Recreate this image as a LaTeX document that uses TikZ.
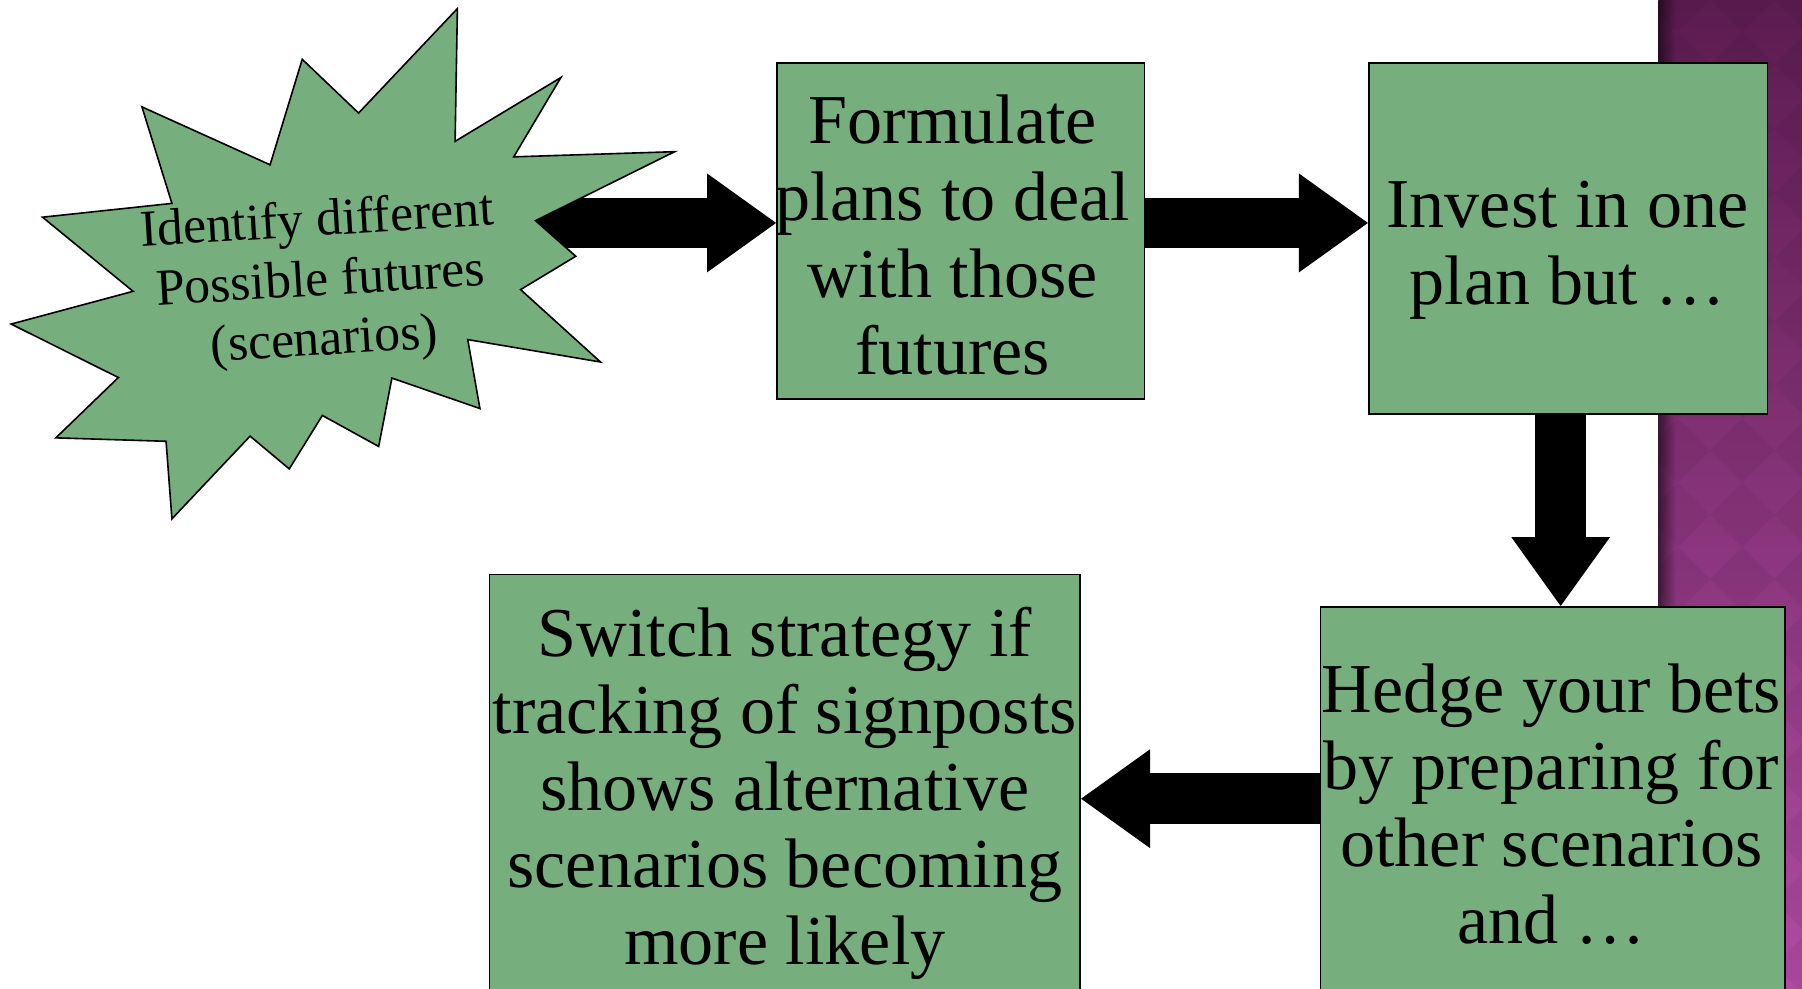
\documentclass[tikz,border=0pt]{standalone}
\usepackage{fontspec}
\setmainfont{Liberation Serif}
\usetikzlibrary{arrows.meta,calc,fadings}

\definecolor{boxgreen}{RGB}{118,174,126}
\definecolor{plumtop}{RGB}{92,28,80}
\definecolor{plummid}{RGB}{142,58,128}
\definecolor{plumbot}{RGB}{176,74,162}

\tikzset{
  stepbox/.style={draw=black, line width=0.7pt, fill=boxgreen, inner sep=0pt},
  boxtext/.style={align=center, font=\fontsize{30.5}{33.5}\selectfont, inner sep=0pt},
  bursttext/.style={align=center, font=\fontsize{22.5}{26}\selectfont, inner sep=0pt},
  blockarrow/.style={draw=black, line width=22pt,
    -{Triangle[length=30pt,width=43pt,line width=0pt]}},
  tile/.style={black, opacity=0.045},
}

\begin{document}
\begin{tikzpicture}[x=0.5pt,y=-0.5pt]
\useasboundingbox (0,0) rectangle (1568,860);
\clip (0,0) rectangle (1568,860);

% purple band on the right, with a faint diamond texture
\shade[top color=plumtop, middle color=plummid, bottom color=plumbot]
  (1443,0) rectangle (1568,860);
\begin{scope}
  \clip (1443,0) rectangle (1568,860);
  \foreach \i in {0,...,3} {
    \foreach \j in {0,...,16} {
      \fill[tile] ({1460+56*\i},{56*\j-28}) -- ++(28,28) -- ++(-28,28) -- ++(-28,-28) -- cycle;
    }
  }
\end{scope}
\fill[black, opacity=0.55, path fading=east] (1443,0) rectangle (1458,860);

% boxes
\node[stepbox, minimum width=160pt, minimum height=146pt] (A) at (836,201) {};
\node[stepbox, minimum width=173.5pt, minimum height=152.5pt] (B) at (1364.5,207.5) {};
\node[stepbox, minimum width=202pt, minimum height=186pt] (C) at (1351,714) {};
\node[stepbox, minimum width=257pt, minimum height=200pt] (D) at (683,700) {};

\node[boxtext] (At) at (829,204.5) {Formulate\\plans to deal\\with those\\futures};
\node[boxtext] (Bt) at (1364,218) {Invest in one\\plan but \dots};
\node[boxtext] (Ct) at (1350,700) {Hedge your bets\\by preparing for\\other scenarios\\and \dots};
\node[boxtext] (Dt) at (683,690.5) {Switch strategy if\\tracking of signposts\\shows alternative\\scenarios becoming\\more likely};

% block arrows
\coordinate (s1) at (445,194);
\coordinate (s2) at (1000,695);
\draw[blockarrow] (s1) -- (A.west |- s1);
\draw[blockarrow] (A.east |- s1) -- (B.west |- s1);
\draw[blockarrow] ([xshift=-3.25pt]B.south) -- ([xshift=3.5pt]C.north);
\draw[blockarrow] (C.west |- s2) -- (D.east |- s2);

% starburst
\draw[fill=boxgreen, line width=0.7pt, line join=miter]
  (398,7.5) -- (396,123) -- (488,67.5) -- (447,136.5) -- (587,132)
  -- (466,192) -- (501,223) -- (453,252) -- (522.5,315) -- (407,295.5)
  -- (417.6,355.5) -- (341,329) -- (329.5,388.5) -- (280.5,361.5)
  -- (251.7,408) -- (217.6,379.5) -- (149.6,451.5) -- (144.5,384)
  -- (48.6,381) -- (103,328.5) -- (9.7,282) -- (115.8,253.5)
  -- (37,189) -- (149.6,177) -- (123.5,93) -- (235,143.4)
  -- (263,51.6) -- (312,98.4) -- cycle;
\node[bursttext, rotate=3.5] (St) at (279,246) {Identify different\\Possible futures\\(scenarios)};
\end{tikzpicture}
\end{document}
